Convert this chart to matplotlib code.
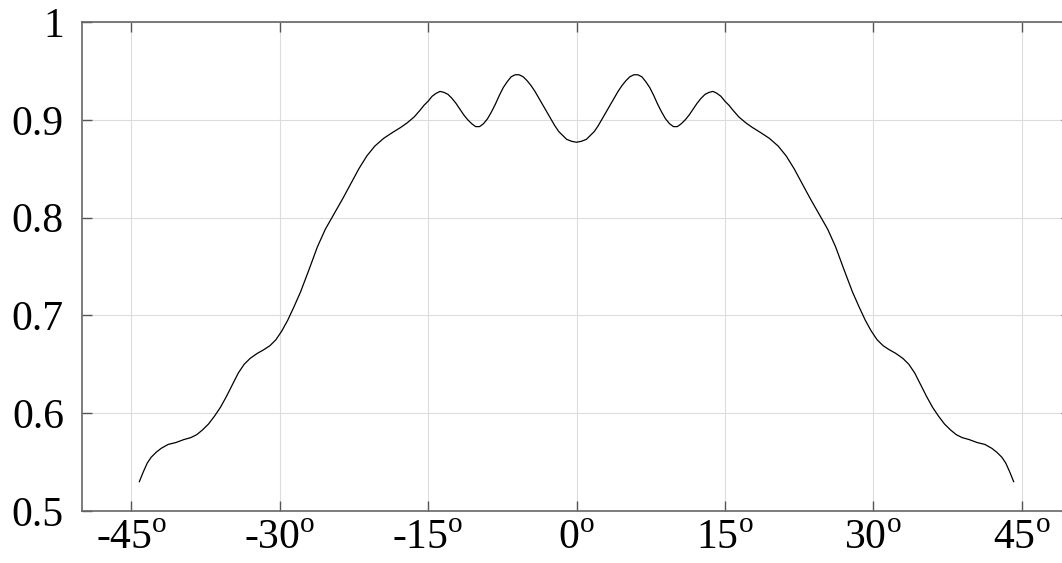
import matplotlib

matplotlib.use("Agg")
import matplotlib.pyplot as plt

# courbe (angle en degrés, valeur), moitié gauche puis droite
angles_left = [
    -44.2, -43.8, -43.4, -43.0, -42.5, -42.0, -41.3, -40.5, -39.7, -39.0,
    -38.4, -37.8, -37.2, -36.6, -36.0, -35.4, -34.8, -34.2, -33.6, -33.0,
    -32.3, -31.6, -31.0, -30.4, -29.8, -29.2, -28.6, -27.9, -27.0, -26.2,
    -25.4, -24.5, -23.6, -22.8, -22.0, -21.2, -20.4, -19.5, -18.6, -17.8,
    -17.1, -16.4, -15.8, -15.4, -15.0, -14.6, -14.2, -13.8, -13.4, -13.0,
    -12.6, -12.2, -11.8, -11.4, -11.0, -10.6, -10.2, -9.8, -9.4, -9.0,
    -8.6, -8.2, -7.8, -7.4, -7.0, -6.6, -6.2, -5.8, -5.4, -5.0,
    -4.6, -4.2, -3.8, -3.4, -3.0, -2.6, -2.2, -1.8, -1.4, -1.0,
    -0.5, 0.0,
]
values_left = [
    0.530, 0.540, 0.549, 0.555, 0.560, 0.564, 0.568, 0.570, 0.573, 0.575,
    0.578, 0.583, 0.589, 0.597, 0.606, 0.617, 0.629, 0.641, 0.650, 0.656,
    0.661, 0.665, 0.669, 0.675, 0.684, 0.695, 0.708, 0.724, 0.748, 0.770,
    0.788, 0.804, 0.820, 0.835, 0.850, 0.863, 0.873, 0.881, 0.887, 0.892,
    0.897, 0.903, 0.910, 0.915, 0.919, 0.924, 0.927, 0.929, 0.928, 0.926,
    0.922, 0.917, 0.911, 0.905, 0.900, 0.896, 0.893, 0.893, 0.896, 0.901,
    0.908, 0.916, 0.925, 0.933, 0.939, 0.944, 0.946, 0.946, 0.944, 0.940,
    0.935, 0.929, 0.922, 0.915, 0.908, 0.901, 0.894, 0.888, 0.884, 0.880,
    0.878, 0.877,
]
angles_right = [
    0.5, 1.0, 1.4, 1.8, 2.2, 2.6, 3.0, 3.4, 3.8, 4.2,
    4.6, 5.0, 5.4, 5.8, 6.2, 6.6, 7.0, 7.4, 7.8, 8.2,
    8.6, 9.0, 9.4, 9.8, 10.2, 10.6, 11.0, 11.4, 11.8, 12.2,
    12.6, 13.0, 13.4, 13.8, 14.2, 14.6, 15.0, 15.4, 15.8, 16.4,
    17.1, 17.8, 18.6, 19.5, 20.4, 21.2, 22.0, 22.8, 23.6, 24.5,
    25.4, 26.2, 27.0, 27.9, 28.6, 29.2, 29.8, 30.4, 31.0, 31.6,
    32.3, 33.0, 33.6, 34.2, 34.8, 35.4, 36.0, 36.6, 37.2, 37.8,
    38.4, 39.0, 39.7, 40.5, 41.3, 42.0, 42.5, 43.0, 43.4, 43.8,
    44.2,
]
values_right = [
    0.878, 0.880, 0.884, 0.888, 0.894, 0.901, 0.908, 0.915, 0.922, 0.929,
    0.935, 0.940, 0.944, 0.946, 0.946, 0.944, 0.939, 0.933, 0.925, 0.916,
    0.908, 0.901, 0.896, 0.893, 0.893, 0.896, 0.900, 0.905, 0.911, 0.917,
    0.922, 0.926, 0.928, 0.929, 0.927, 0.924, 0.919, 0.915, 0.910, 0.903,
    0.897, 0.892, 0.887, 0.881, 0.873, 0.863, 0.850, 0.835, 0.820, 0.804,
    0.788, 0.770, 0.748, 0.724, 0.708, 0.695, 0.684, 0.675, 0.669, 0.665,
    0.661, 0.656, 0.650, 0.641, 0.629, 0.617, 0.606, 0.597, 0.589, 0.583,
    0.578, 0.575, 0.573, 0.570, 0.568, 0.564, 0.560, 0.555, 0.549, 0.540,
    0.530,
]

x_ticks = [-45, -30, -15, 0, 15, 30, 45]
y_ticks = [0.5, 0.6, 0.7, 0.8, 0.9, 1.0]
y_labels = ["0.5", "0.6", "0.7", "0.8", "0.9", "1"]

plt.rcParams["font.family"] = ["Liberation Serif", "DejaVu Serif"]
plt.rcParams["mathtext.fontset"] = "custom"
plt.rcParams["mathtext.rm"] = "Liberation Serif"

fig = plt.figure(figsize=(10.62, 5.63), dpi=100)
# l'axe déborde à droite comme sur l'original (bord droit coupé)
ax = fig.add_axes([0.0772, 0.0924, 0.9313, 0.8686])

ax.plot(angles_left + angles_right, values_left + values_right,
        color="black", linewidth=0.9)

ax.set_xlim(-50, 50)
ax.set_ylim(0.5, 1.0)
ax.set_xticks(x_ticks)
ax.set_xticklabels([f"{t}$^{{\\mathrm{{o}}}}$" for t in x_ticks])
ax.set_yticks(y_ticks)
ax.set_yticklabels(y_labels)

ax.grid(color="#dcdcdc", linewidth=0.8)
ax.tick_params(direction="in", length=7, width=1, color="#555555",
               labelsize=30, top=True, right=True)
ax.tick_params(axis="y", pad=13)
ax.tick_params(axis="x", pad=6)
for s in ax.spines.values():
    s.set_color("#666666")
    s.set_linewidth(1.2)

fig.savefig("out.png")
